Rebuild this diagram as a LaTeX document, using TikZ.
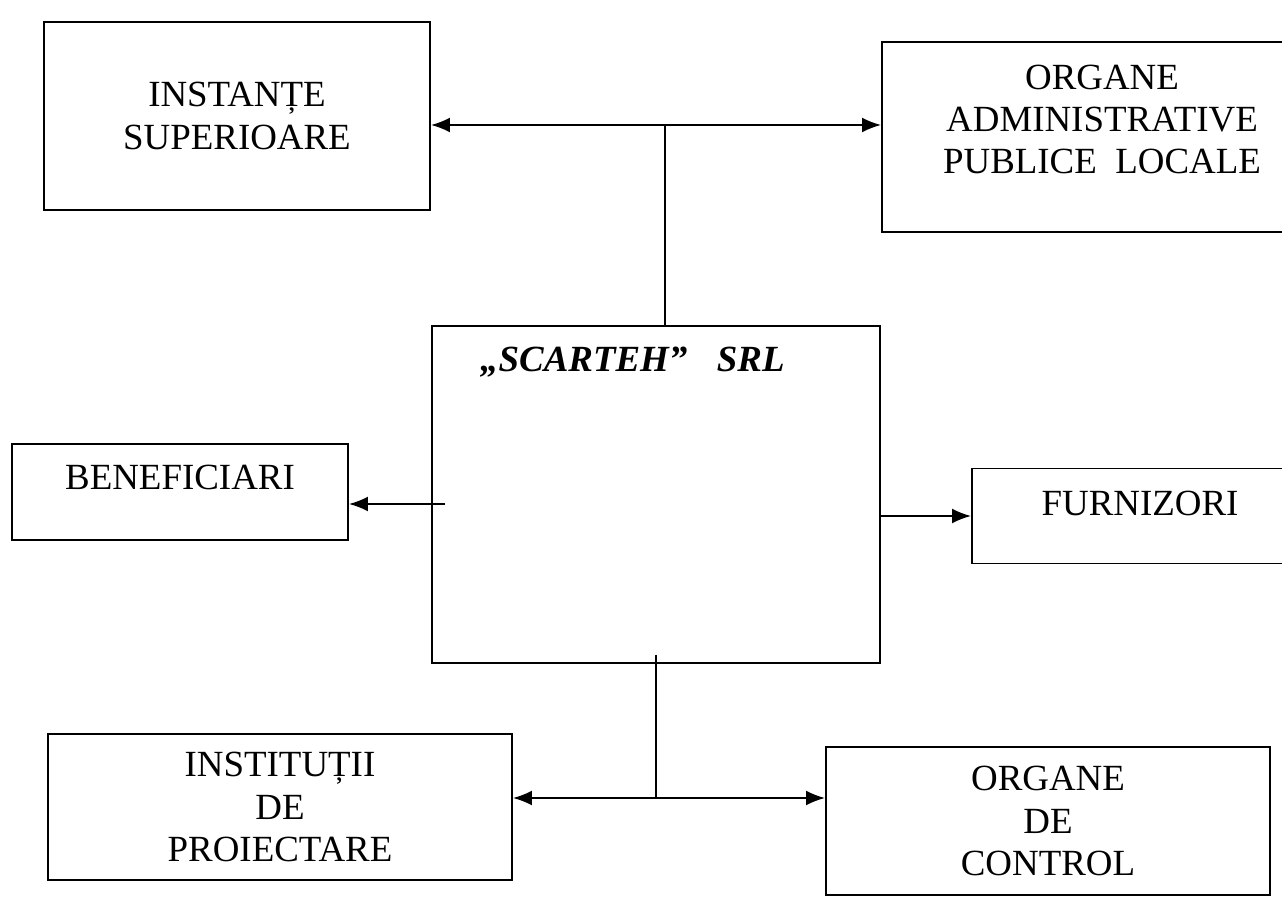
\documentclass[tikz,border=0pt]{standalone}
\usepackage{fontspec}
\setmainfont{Liberation Serif}
\usetikzlibrary{positioning,arrows.meta,calc}

\begin{document}
\begin{tikzpicture}[
  box/.style={draw,line width=1.1pt,inner sep=0pt,align=center,font=\fontsize{21}{24}\selectfont},
  lnk/.style={line width=1.1pt},
  arr/.style={lnk,-{Latex[length=0.38cm,width=0.3cm]}},
]
\useasboundingbox (0,0) rectangle (25.64,18.04);
\clip (0,0) rectangle (25.64,18.04);
% top row
\node[box,minimum width=7.72cm,minimum height=3.76cm] (inst) at (4.74,15.72) {INSTANȚE\\SUPERIOARE};
\node[box,minimum width=8.8cm,minimum height=3.8cm,text depth=0.72cm] (admin) at (22.04,15.30)
  {ORGANE\\ADMINISTRATIVE\\PUBLICE\ \ LOCALE};
% the firm
\node[box,minimum width=8.96cm,minimum height=6.74cm] (firma) at (13.12,8.15) {};
\node[anchor=west,font=\fontsize{21}{24}\selectfont\bfseries\itshape] (nume)
  at ([xshift=0.86cm,yshift=-0.74cm]firma.north west) {„SCARTEH”\hspace{0.8em}SRL};
% middle row
\node[box,minimum width=6.72cm,minimum height=1.92cm,text depth=0.59cm] (benef) at (3.60,8.20) {BENEFICIARI};
\node[box,minimum width=6.72cm,minimum height=1.9cm,text depth=0.51cm] (furn) at (22.80,7.72) {FURNIZORI};
% bottom row
\node[box,minimum width=9.28cm,minimum height=2.92cm] (instit) at (5.60,1.90) {INSTITUȚII\\DE\\PROIECTARE};
\node[box,minimum width=8.88cm,minimum height=2.96cm] (ctrl) at (20.96,1.62) {ORGANE\\DE\\CONTROL};
% connectors
\coordinate (tj) at (13.30,15.54);
\draw[arr] (tj) -- (tj -| inst.east);
\draw[arr] (tj) -- (tj -| admin.west);
\draw[lnk] (tj) -- (tj |- firma.north);
\coordinate (bs) at (8.90,7.96);
\draw[arr] (bs) -- (bs -| benef.east);
\draw[arr] (firma.east |- furn.west) -- (furn.west);
\coordinate (bt) at (13.12,4.94);
\coordinate (bj) at (13.12,2.08);
\draw[lnk] (bt) -- (bj);
\draw[arr] (bj) -- (bj -| instit.east);
\draw[arr] (bj) -- (bj -| ctrl.west);
\end{tikzpicture}
\end{document}
